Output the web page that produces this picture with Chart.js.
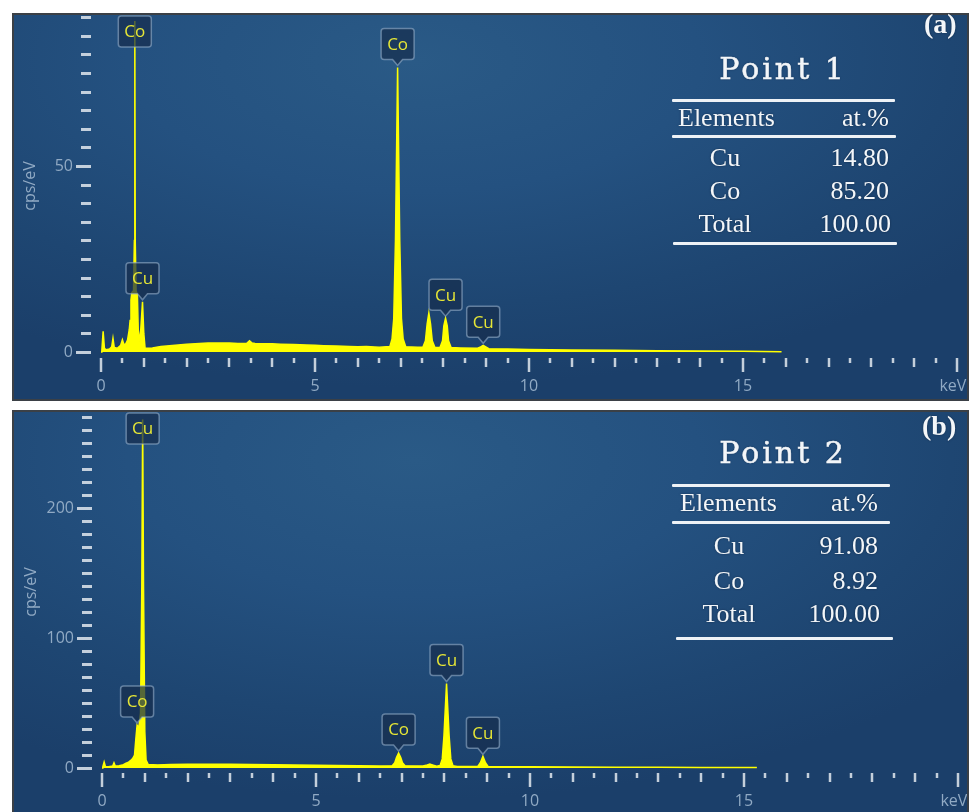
<!DOCTYPE html>
<html>
<head>
<meta charset="utf-8">
<script src="https://cdn.jsdelivr.net/npm/chart.js@4.4.1/dist/chart.umd.min.js"></script>
<style>
  html, body { margin: 0; padding: 0; background: #ffffff; width: 971px; height: 812px; overflow: hidden; }
  .panel {
    position: absolute; left: 12px; width: 957px; box-sizing: border-box;
    border: 2px solid #3b4046;
    background: radial-gradient(ellipse 75% 85% at 42% 12%, #2a5a86 0%, #245180 40%, #1e4672 75%, #1b3f6a 100%);
    overflow: hidden;
  }
  #panelA { top: 13px; height: 388px; }
  #panelB { top: 410px; height: 404px; }
  .panel canvas { position: absolute; left: 0; top: 0; }
  .txt { position: absolute; white-space: nowrap; line-height: 1; color: #f3f6f9;
         text-shadow: 0 0 2px rgba(10,25,45,0.6); }
  .rule { position: absolute; height: 3px; background: #eef2f6; border-radius: 1px; }
</style>
</head>
<body>
<div id="panelA" class="panel"><canvas id="chartA" width="953" height="384"></canvas></div>
<div id="panelB" class="panel"><canvas id="chartB" width="953" height="400"></canvas></div>
<script>
// ---- Spectrum (a): energy in keV, intensity in cps/eV ----
const energyA = [
  0.00, 0.02, 0.05, 0.08, 0.12, 0.20, 0.25, 0.28, 0.31, 0.38, 0.46, 0.50, 0.53, 0.57,
  0.62, 0.66, 0.68, 0.70, 0.72, 0.76, 0.78, 0.79, 0.80, 0.82, 0.85, 0.87, 0.91, 0.94,
  0.97, 1.00, 1.03, 1.10, 1.20, 1.30, 1.40, 1.60, 1.80, 2.00, 2.20, 2.50, 2.70, 3.00,
  3.20, 3.40, 3.47, 3.53, 3.60, 3.80, 4.00, 4.20, 4.50, 4.80, 5.00, 5.20, 5.50, 5.80,
  6.00, 6.20, 6.50, 6.75, 6.80, 6.84, 6.88, 6.93, 6.98, 7.02, 7.06, 7.12, 7.40, 7.52,
  7.58, 7.62, 7.66, 7.70, 7.74, 7.80, 7.92, 7.98, 8.01, 8.05, 8.09, 8.12, 8.18, 8.40,
  8.80, 8.87, 8.93, 8.99, 9.06, 9.50, 10.0, 11.0, 12.0, 13.0, 14.0, 15.0, 15.9
];
const countsA = [
  0.0, 0.5, 5.6, 1.0, 0.6, 0.8, 1.4, 3.7, 1.2, 1.0, 1.8, 3.3, 2.2, 2.0,
  3.2, 6.0, 8.5, 14.0, 16.0, 16.5, 30.0, 89.0, 30.0, 16.5, 15.5, 6.0, 2.6, 8.0,
  13.5, 5.0, 1.0, 1.0, 1.1, 1.3, 1.5, 1.7, 1.9, 2.1, 2.2, 2.4, 2.4, 2.4,
  2.3, 2.3, 3.0, 2.4, 2.3, 2.2, 2.2, 2.1, 2.0, 1.9, 1.8, 1.7, 1.6, 1.5,
  1.4, 1.5, 1.3, 1.5, 3.5, 9.0, 30.0, 76.5, 30.0, 9.0, 3.5, 1.4, 1.3, 1.3,
  3.0, 7.5, 10.5, 7.5, 3.0, 1.3, 1.2, 3.0, 7.0, 9.1, 7.0, 3.0, 1.2, 1.1,
  1.0, 1.4, 1.8, 1.4, 0.9, 0.8, 0.7, 0.55, 0.45, 0.35, 0.3, 0.2, 0.1
];

// ---- Spectrum (b) ----
const energyB = [
  0.00, 0.02, 0.05, 0.08, 0.15, 0.25, 0.28, 0.31, 0.40, 0.50, 0.55, 0.62, 0.68, 0.72,
  0.76, 0.79, 0.82, 0.86, 0.90, 0.93, 0.95, 0.97, 1.00, 1.03, 1.08, 1.30, 1.60, 2.00,
  2.50, 3.00, 3.50, 4.00, 4.50, 5.00, 5.50, 6.00, 6.50, 6.78, 6.84, 6.88, 6.93, 6.98,
  7.02, 7.08, 7.50, 7.60, 7.66, 7.72, 7.82, 7.90, 7.95, 7.99, 8.05, 8.11, 8.15, 8.20,
  8.30, 8.78, 8.84, 8.90, 8.96, 9.02, 9.50, 10.0, 11.0, 12.0, 13.0, 14.0, 15.3
];
const countsB = [
  0.0, 1.0, 4.6, 1.2, 1.0, 1.5, 4.0, 1.5, 1.8, 2.5, 3.5, 4.5, 6.0, 7.5,
  10.0, 22.0, 33.0, 31.0, 42.0, 140.0, 268.0, 140.0, 28.0, 6.0, 2.6, 2.4, 2.6, 2.8,
  2.9, 2.8, 2.7, 2.5, 2.3, 2.1, 1.9, 1.8, 1.6, 1.8, 4.0, 8.0, 11.5, 8.0,
  4.0, 1.7, 1.5, 2.4, 3.0, 2.4, 1.4, 2.0, 7.0, 25.0, 65.0, 25.0, 7.0, 1.8,
  1.2, 1.2, 4.0, 9.0, 4.0, 1.2, 1.0, 0.9, 0.7, 0.6, 0.5, 0.4, 0.3
];

// ---- Axis tick labels ----
const keVTicks = [0, 5, 10, 15, 20];
const keVTickLabels = ['0', '5', '10', '15', 'keV  '];
const cpsTicksA = [0, 50];
const cpsTicksB = [0, 100, 200];

// ---- Peak tags ----
const tagElementsA = ['Co', 'Cu', 'Co', 'Cu', 'Cu'];
const tagEnergiesA = [0.79, 0.97, 6.93, 8.05, 8.93];
const tagElementsB = ['Co', 'Cu', 'Co', 'Cu', 'Cu'];
const tagEnergiesB = [0.82, 0.95, 6.93, 8.05, 8.90];

// ---- Composition tables ----
const elementNames = ['Cu', 'Co', 'Total'];
const atPctA = ['14.80', '85.20', '100.00'];
const atPctB = ['91.08', '8.92', '100.00'];

const AXIS_TEXT = '#91aac4';
const TICK_MARK = 'rgba(210,219,229,0.92)';
const SPECTRUM = '#ffff00';

Chart.defaults.font.family = '"Open Sans", "Noto Sans", sans-serif';

function tagsFor(names, energies, xs, ys) {
  return names.map((n, i) => ({ text: n, e: energies[i], h: ys[xs.indexOf(energies[i])] }));
}

function drawTag(ctx, cx, tipY, text, area) {
  const w = 33, h = 31, ph = 6, pw = 5, r = 3;
  let bottom = tipY - ph;
  let top = bottom - h;
  let pointer = true;
  if (top < area.top + 1) { top = area.top + 1; bottom = top + h; pointer = false; }
  const l = cx - w / 2, rt = cx + w / 2;
  ctx.beginPath();
  ctx.moveTo(l + r, top);
  ctx.lineTo(rt - r, top); ctx.quadraticCurveTo(rt, top, rt, top + r);
  ctx.lineTo(rt, bottom - r); ctx.quadraticCurveTo(rt, bottom, rt - r, bottom);
  if (pointer) { ctx.lineTo(cx + pw, bottom); ctx.lineTo(cx, bottom + ph); ctx.lineTo(cx - pw, bottom); }
  ctx.lineTo(l + r, bottom); ctx.quadraticCurveTo(l, bottom, l, bottom - r);
  ctx.lineTo(l, top + r); ctx.quadraticCurveTo(l, top, l + r, top);
  ctx.closePath();
  ctx.fillStyle = 'rgba(22,46,78,0.72)';
  ctx.fill();
  ctx.strokeStyle = 'rgba(150,175,202,0.6)';
  ctx.lineWidth = 1.5;
  ctx.stroke();
  ctx.fillStyle = '#e6e636';
  ctx.font = '17px "Open Sans", sans-serif';
  ctx.textAlign = 'center';
  ctx.textBaseline = 'middle';
  ctx.fillText(text, cx, (top + bottom) / 2 + 1);
}

// Tick marks (three lengths on the energy axis, two on the intensity axis) and peak tags
const spectrumDecor = {
  id: 'spectrumDecor',
  afterDatasetsDraw(chart, args, opts) {
    const { ctx, chartArea, scales: { x, y } } = chart;
    ctx.save();
    opts.tags.forEach(t => {
      drawTag(ctx, x.getPixelForValue(t.e), y.getPixelForValue(t.h) - 2, t.text, chartArea);
    });
    ctx.restore();
  },
  afterDraw(chart, args, opts) {
    const { ctx, chartArea, scales: { x, y } } = chart;
    const x0 = x.getPixelForValue(0);
    ctx.save();
    ctx.strokeStyle = TICK_MARK;
    ctx.lineWidth = 2.5;
    for (let i = 0; i <= 40; i++) {
      const px = Math.round(x.getPixelForValue(i * 0.5));
      const len = i % 10 === 0 ? 14 : (i % 2 === 0 ? 9 : 5);
      ctx.beginPath();
      ctx.moveTo(px, chartArea.bottom + 1);
      ctx.lineTo(px, chartArea.bottom + 1 + len);
      ctx.stroke();
    }
    ctx.lineWidth = 3;
    for (let v = 0; v <= y.max; v += opts.yStep) {
      const py = Math.round(y.getPixelForValue(v)) + 0.5;
      const major = v % opts.yMajor === 0;
      ctx.beginPath();
      ctx.moveTo(x0 - (major ? 25 : 20), py);
      ctx.lineTo(x0 - 10, py);
      ctx.stroke();
    }
    ctx.restore();
  }
};

// The axes keep a fixed size and no label overhang padding, so the plot area lines up exactly
function fixBox(size, key) {
  return s => {
    s[key] = size;
    s.paddingTop = 0; s.paddingBottom = 0; s.paddingLeft = 0; s.paddingRight = 0;
  };
}

function makeChart(id, energy, counts, cfg) {
  const pts = energy.map((e, i) => ({ x: e, y: counts[i] }));
  return new Chart(document.getElementById(id), {
    type: 'line',
    data: {
      datasets: [{
        data: pts,
        borderColor: SPECTRUM,
        backgroundColor: SPECTRUM,
        borderWidth: 1.5,
        fill: 'origin',
        pointRadius: 0,
        tension: 0
      }]
    },
    options: {
      responsive: false,
      animation: false,
      devicePixelRatio: 1,
      layout: { autoPadding: false, padding: { left: 0, top: 0, right: cfg.padRight, bottom: 0 } },
      plugins: {
        legend: { display: false },
        tooltip: { enabled: false },
        spectrumDecor: { yStep: cfg.yStep, yMajor: cfg.yMajor, tags: cfg.tags }
      },
      scales: {
        x: {
          type: 'linear', min: 0, max: 20,
          grid: { display: false, drawTicks: false },
          border: { display: false },
          afterBuildTicks: s => { s.ticks = keVTicks.map(v => ({ value: v })); },
          afterFit: fixBox(cfg.xHeight, 'height'),
          ticks: {
            color: AXIS_TEXT, font: { size: 16 }, padding: cfg.xPad, autoSkip: false, maxRotation: 0,
            callback: v => keVTickLabels[keVTicks.indexOf(v)]
          }
        },
        y: {
          type: 'linear', min: cfg.yMin, max: cfg.yMax,
          grid: { display: false, drawTicks: false },
          border: { display: false },
          afterBuildTicks: s => { s.ticks = cfg.yTicks.map(v => ({ value: v })); },
          afterFit: fixBox(cfg.yWidth, 'width'),
          ticks: { color: AXIS_TEXT, font: { size: 16 }, padding: 28 },
          title: { display: true, text: 'cps/eV', color: AXIS_TEXT,
                   font: { size: 16 }, padding: { top: cfg.cpsPad, bottom: 0 } }
        }
      }
    },
    plugins: [spectrumDecor]
  });
}

makeChart('chartA', energyA, countsA, {
  padRight: 10, xHeight: 42, yWidth: 87, yMin: -1.34, yMax: 90.6, xPad: 20,
  yTicks: cpsTicksA, yStep: 5, yMajor: 50, cpsPad: 6.4,
  tags: tagsFor(tagElementsA, tagEnergiesA, energyA, countsA)
});
makeChart('chartB', energyB, countsB, {
  padRight: 9, xHeight: 40, yWidth: 88, yMin: -3.08, yMax: 273.8, xPad: 20,
  yTicks: cpsTicksB, yStep: 10, yMajor: 100, cpsPad: 7.4,
  tags: tagsFor(tagElementsB, tagEnergiesB, energyB, countsB)
});

// ---- Composition tables and panel letters ----
const SERIF = '"Liberation Serif", "Times New Roman", serif';
const TITLE_FONT = '"DejaVu Serif", serif';
function put(text, x, baseline, size, family, align, weight, ascentRatio, spacing) {
  const d = document.createElement('div');
  d.className = 'txt';
  d.textContent = text;
  d.style.fontFamily = family;
  d.style.fontSize = size + 'px';
  d.style.fontWeight = weight || 'normal';
  if (spacing) d.style.letterSpacing = spacing + 'px';
  d.style.top = (baseline - ascentRatio * size) + 'px';
  d.style.left = x + 'px';
  if (align === 'center') d.style.transform = 'translateX(-50%)';
  if (align === 'right') d.style.transform = 'translateX(-100%)';
  document.body.appendChild(d);
  return d;
}
function rule(x, yc, w) {
  const d = document.createElement('div');
  d.className = 'rule';
  d.style.left = x + 'px';
  d.style.top = (yc - 1.5) + 'px';
  d.style.width = w + 'px';
  document.body.appendChild(d);
}
function table(title, letter, values, g) {
  const t = put(title, 783, g.titleBase, 30, TITLE_FONT, 'center', 'normal', 0.846, 3);
  t.style.webkitTextStroke = '0.5px #f3f6f9';
  put(letter, g.letterX, g.letterBase, 28, SERIF, 'left', 'bold', 0.8375);
  g.rules.forEach(r => rule(r[0], r[1], r[2]));
  put('Elements', g.headLeft, g.headBase, 26, SERIF, 'left', 'normal', 0.8375);
  put('at.%', g.valRight, g.headBase, 26, SERIF, 'right', 'normal', 0.8375);
  elementNames.forEach((n, i) => {
    put(n, g.nameCenter, g.rowBase[i], 26, SERIF, 'center', 'normal', 0.8375);
    put(values[i], g.valRight + (i === 2 ? 2 : 0), g.rowBase[i], 26, SERIF, 'right', 'normal', 0.8375);
  });
}
table('Point 1', '(a)', atPctA, {
  titleBase: 79, letterX: 924, letterBase: 33,
  rules: [[672, 100, 223], [672, 136, 224], [673, 243, 224]],
  headLeft: 678, headBase: 127, valRight: 889, nameCenter: 725,
  rowBase: [167, 200, 233]
});
table('Point 2', '(b)', atPctB, {
  titleBase: 463, letterX: 922, letterBase: 435,
  rules: [[672, 485, 218], [672, 522, 218], [676, 638, 217]],
  headLeft: 680, headBase: 512, valRight: 878, nameCenter: 729,
  rowBase: [555, 590, 623]
});
</script>
</body>
</html>
